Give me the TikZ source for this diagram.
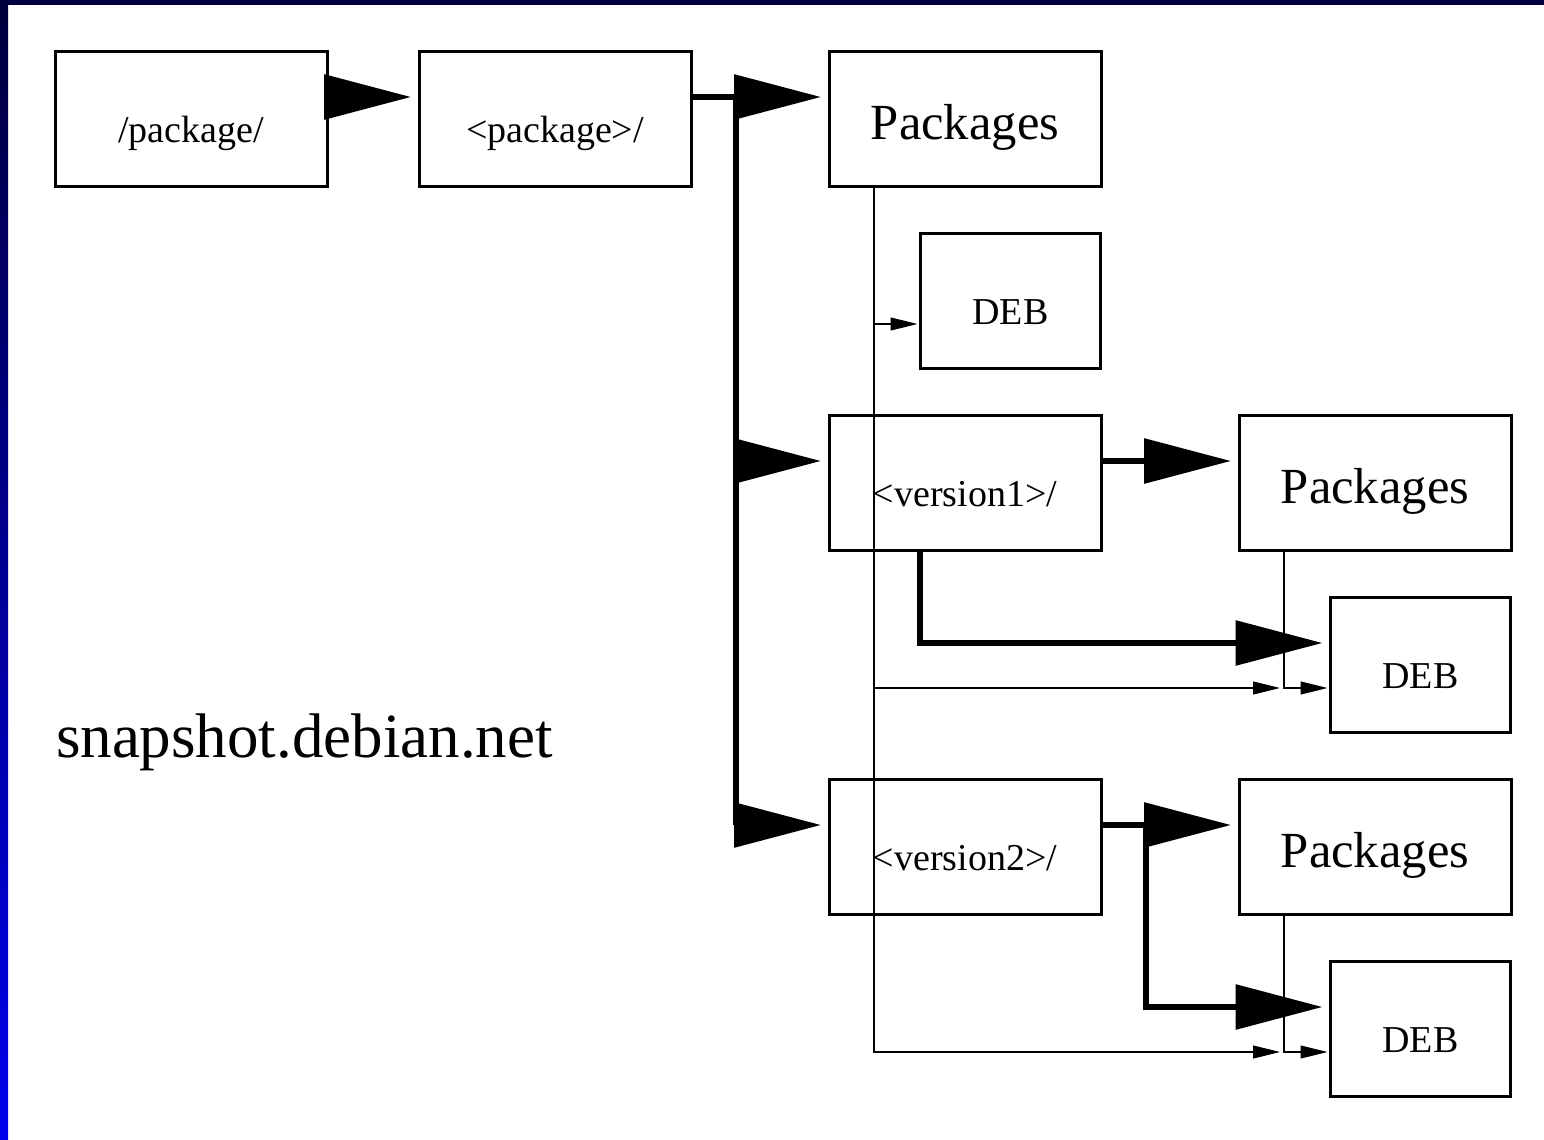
\documentclass[tikz,border=0pt]{standalone}
\usepackage{fontspec}
\setmainfont{Liberation Serif}
\usetikzlibrary{arrows.meta}

\definecolor{bgtop}{RGB}{0,0,60}
\definecolor{bgside}{RGB}{0,0,236}

\begin{document}
\begin{tikzpicture}[x=0.5pt, y=-0.5pt,
    every node/.style = {inner sep=0pt, outer sep=0pt, text=black},
          box/.style = {rectangle, draw, line width=1.5pt, minimum width=136pt,
                        minimum height=67.5pt, text depth=0pt},
          dir/.style = {font=\fontsize{19}{22}\selectfont, text height=23pt},
        index/.style = {font=\fontsize{25.3}{30}\selectfont, text height=20pt},
          deb/.style = {dir, minimum width=90pt},
         link/.style = {line width=3pt, shorten >=4pt,
                        -{Triangle[length=43.5pt, width=22pt]}},
          ref/.style = {line width=0.55pt, shorten >=1.5pt,
                        -{Triangle[length=13.5pt, width=6.5pt]}},]%
  % frame
  \useasboundingbox (0,0) rectangle (1544,1140);
  \fill [bgtop] (0,0) rectangle (1544,5);
  \shade [top color=bgtop, bottom color=bgside] (0,0) rectangle (8,1140);
  % top row
  \node [box, dir]   (root) at (191,119)    {/package/};
  \node [box, dir]   (pkg)  at (555,119)    {<package>/};
  \node [box, index] (idx0) at (965,119)    {Packages};
  \node [box, deb]   (deb0) at (1010.5,301) {DEB};
  % version 1
  \node [box, dir]   (ver1) at (965,483)    {<version1>/};
  \node [box, index] (idx1) at (1375,483)   {Packages};
  \node [box, deb]   (deb1) at (1420.5,665) {DEB};
  % version 2
  \node [box, dir]   (ver2) at (965,847)    {<version2>/};
  \node [box, index] (idx2) at (1375,847)   {Packages};
  \node [box, deb]   (deb2) at (1420.5,1029) {DEB};
  % site name
  \node [anchor=base west, font=\fontsize{31.5}{36}\selectfont]
        (site) at (56,757) {snapshot.debian.net};
  % directory links
  \draw [link] ([yshift=11pt]root.east) -- ([yshift=11pt]pkg.west);
  \draw [link] ([yshift=11pt]pkg.east) -- ++(45,0) coordinate (trunk)
               -- ([yshift=11pt]idx0.west);
  \draw [link] (trunk) |- ([yshift=11pt]ver1.west);
  \draw [link] (trunk) |- ([yshift=11pt]ver2.west);
  \draw [link] ([yshift=11pt]ver1.east) -- ([yshift=11pt]idx1.west);
  \draw [link] ([xshift=-22.5pt]ver1.south) |- ([yshift=11pt]deb1.west);
  \draw [link] ([yshift=11pt]ver2.east) -- ++(45,0) coordinate (fork)
               -- ([yshift=11pt]idx2.west);
  \draw [link] (fork) |- ([yshift=11pt]deb2.west);
  % index references
  \draw [ref] ([xshift=22.5pt]idx1.south west) |- coordinate[pos=.5] (drop1)
              ([yshift=-11.5pt]deb1.west);
  \draw [ref] ([xshift=22.5pt]idx2.south west) |- coordinate[pos=.5] (drop2)
              ([yshift=-11.5pt]deb2.west);
  \draw [ref] ([xshift=22.5pt]idx0.south west) |- ([yshift=-11.5pt]deb0.west);
  \draw [ref, shorten >=2pt] ([xshift=22.5pt]idx0.south west) |- (drop1);
  \draw [ref, shorten >=2pt] ([xshift=22.5pt]idx0.south west) |- (drop2);
\end{tikzpicture}
\end{document}
